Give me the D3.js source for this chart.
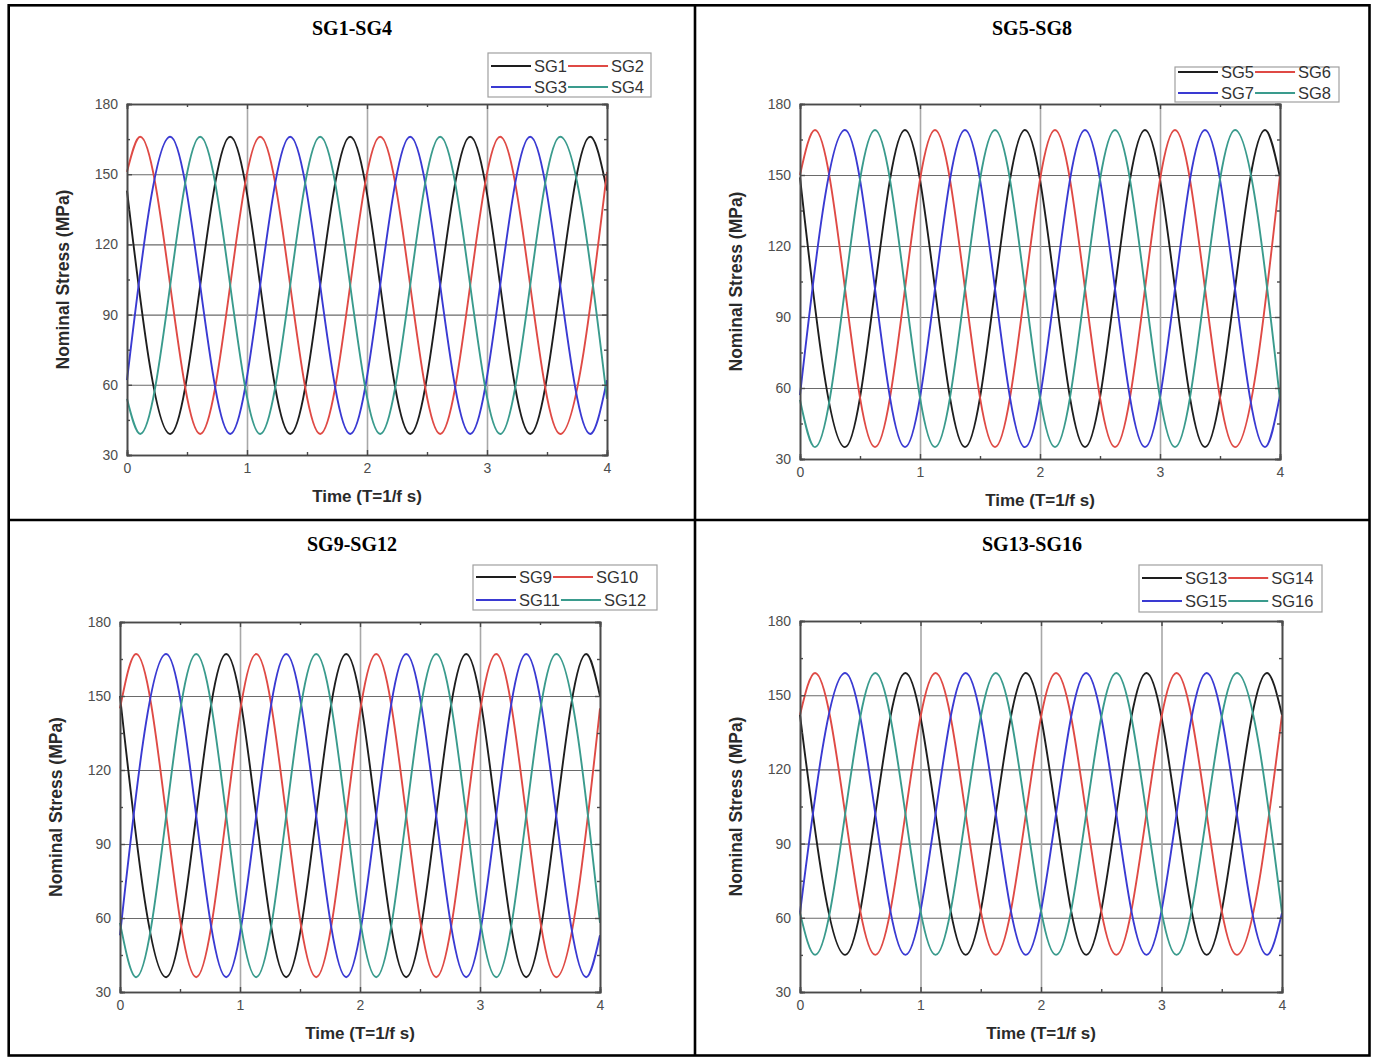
<!DOCTYPE html>
<html>
<head>
<meta charset="utf-8">
<script src="https://cdn.jsdelivr.net/npm/d3@7"></script>
<style>
  body { margin: 0; background: #fff; }
  svg text { font-family: "Liberation Sans", Arial, sans-serif; }
</style>
</head>
<body>
<div id="chart"></div>
<script>
// titles, legend names and ticks
const panelTitles = ["SG1-SG4", "SG5-SG8", "SG9-SG12", "SG13-SG16"];
const seriesNames = [
  ["SG1", "SG2", "SG3", "SG4"],
  ["SG5", "SG6", "SG7", "SG8"],
  ["SG9", "SG10", "SG11", "SG12"],
  ["SG13", "SG14", "SG15", "SG16"]
];
const timeTicks = [0, 1, 2, 3, 4];
const timeMinor = [0.5, 1.5, 2.5, 3.5];
const stressTicks = [30, 60, 90, 120, 150, 180];
const stressMinor = [45, 75, 105, 135, 165];

// [time, stress] read at start, peaks / troughs, end
const sg1 = [[0,143],[0.36,39],[0.86,166],[1.36,39],[1.86,166],[2.36,39],[2.86,166],[3.36,39],[3.86,166],[4,143]];
const sg2 = [[0,151],[0.11,166],[0.61,39],[1.11,166],[1.61,39],[2.11,166],[2.61,39],[3.11,166],[3.61,39],[4,151]];
const sg3 = [[0,62],[0.36,166],[0.86,39],[1.36,166],[1.86,39],[2.36,166],[2.86,39],[3.36,166],[3.86,39],[4,62]];
const sg4 = [[0,54],[0.11,39],[0.61,166],[1.11,39],[1.61,166],[2.11,39],[2.61,166],[3.11,39],[3.61,166],[4,54]];

const sg5 = [[0,149],[0.375,35],[0.875,169],[1.375,35],[1.875,169],[2.375,35],[2.875,169],[3.375,35],[3.875,169],[4,149]];
const sg6 = [[0,150],[0.125,169],[0.625,35],[1.125,169],[1.625,35],[2.125,169],[2.625,35],[3.125,169],[3.625,35],[4,150]];
const sg7 = [[0,57],[0.375,169],[0.875,35],[1.375,169],[1.875,35],[2.375,169],[2.875,35],[3.375,169],[3.875,35],[4,57]];
const sg8 = [[0,55],[0.125,35],[0.625,169],[1.125,35],[1.625,169],[2.125,35],[2.625,169],[3.125,35],[3.625,169],[4,55]];

const sg9  = [[0,150],[0.385,36],[0.885,167],[1.385,36],[1.885,167],[2.385,36],[2.885,167],[3.385,36],[3.885,167],[4,150]];
const sg10 = [[0,145],[0.135,167],[0.635,36],[1.135,167],[1.635,36],[2.135,167],[2.635,36],[3.135,167],[3.635,36],[4,145]];
const sg11 = [[0,53],[0.385,167],[0.885,36],[1.385,167],[1.885,36],[2.385,167],[2.885,36],[3.385,167],[3.885,36],[4,53]];
const sg12 = [[0,58],[0.135,36],[0.635,167],[1.135,36],[1.635,167],[2.135,36],[2.635,167],[3.135,36],[3.635,167],[4,58]];

const sg13 = [[0,142],[0.375,45],[0.875,159],[1.375,45],[1.875,159],[2.375,45],[2.875,159],[3.375,45],[3.875,159],[4,142]];
const sg14 = [[0,142],[0.125,159],[0.625,45],[1.125,159],[1.625,45],[2.125,159],[2.625,45],[3.125,159],[3.625,45],[4,142]];
const sg15 = [[0,62],[0.375,159],[0.875,45],[1.375,159],[1.875,45],[2.375,159],[2.875,45],[3.375,159],[3.875,45],[4,62]];
const sg16 = [[0,62],[0.125,45],[0.625,159],[1.125,45],[1.625,159],[2.125,45],[2.625,159],[3.125,45],[3.625,159],[4,62]];

const panelSeries = [[sg1, sg2, sg3, sg4], [sg5, sg6, sg7, sg8], [sg9, sg10, sg11, sg12], [sg13, sg14, sg15, sg16]];

const lineColors = ["#1e1e1e", "#df4a45", "#3a3ad2", "#3a9b8d"];

// panel geometry (cell, plot area, legend box)
const layout = [
  {cx: 352,  ty: 35,  plot: [127, 104, 607, 455], leg: [488, 53, 651, 97],    rows: [66, 87]},
  {cx: 1032, ty: 35,  plot: [800, 104, 1280, 459], leg: [1175, 67, 1339, 102], rows: [72, 93]},
  {cx: 352,  ty: 551, plot: [120, 622, 600, 992], leg: [473, 565, 657, 610],   rows: [577, 600]},
  {cx: 1032, ty: 551, plot: [800, 621, 1282, 992], leg: [1139, 565, 1322, 612], rows: [578, 601]}
];

const W = 1374, H = 1057;
const svg = d3.select("#chart").append("svg")
  .attr("width", W)
  .attr("height", H);

// table frame
const frame = svg.append("g").attr("stroke", "#000").attr("stroke-width", 2.6).attr("fill", "none");
frame.append("rect").attr("x", 8.7).attr("y", 5.3).attr("width", 1369.5 - 8.7).attr("height", 1055.5 - 5.3);
frame.append("line").attr("x1", 695).attr("x2", 695).attr("y1", 5.3).attr("y2", 1055.5);
frame.append("line").attr("x1", 8.7).attr("x2", 1369.5).attr("y1", 520).attr("y2", 520);

function drawPanel(i) {
  const cfg = layout[i];
  const [x0, y0, x1, y1] = cfg.plot;
  const w = x1 - x0, h = y1 - y0;

  svg.append("text")
    .attr("x", cfg.cx)
    .attr("y", cfg.ty)
    .attr("text-anchor", "middle")
    .style("font-family", "'Liberation Serif', 'Times New Roman', serif")
    .style("font-weight", "bold")
    .style("font-size", "20px")
    .text(panelTitles[i]);

  const g = svg.append("g").attr("transform", `translate(${x0},${y0})`);

  const x = d3.scaleLinear().domain([0, 4]).range([0, w]);
  const y = d3.scaleLinear().domain([30, 180]).range([h, 0]);

  // grid
  g.append("g")
    .call(d3.axisLeft(y).tickValues(stressTicks.slice(1, -1)).tickSize(-w).tickFormat(""))
    .call(a => a.select(".domain").remove())
    .selectAll("line").attr("stroke", "#6a6a6a").attr("stroke-width", 1.1);
  g.append("g")
    .attr("transform", `translate(0,${h})`)
    .call(d3.axisBottom(x).tickValues(timeTicks.slice(1, -1)).tickSize(h).tickFormat(""))
    .call(a => a.select(".domain").remove())
    .selectAll("line").attr("stroke", "#a8a8a8").attr("stroke-width", 1.6)
    .attr("y2", -h);

  // curves
  const line = d3.line()
    .x(d => x(d[0]))
    .y(d => y(d[1]))
    .curve(d3.curveMonotoneX);

  g.selectAll("path.curve")
    .data(panelSeries[i])
    .join("path")
    .attr("class", "curve")
    .attr("fill", "none")
    .attr("stroke", (d, k) => lineColors[k])
    .attr("stroke-width", 1.9)
    .attr("d", line);

  // axes with inward ticks
  const tickStyle = a => {
    a.select(".domain").attr("stroke", "#4a4a4a").attr("stroke-width", 1.6);
    a.selectAll(".tick line").attr("stroke", "#4a4a4a").attr("stroke-width", 1.4);
    a.selectAll("text").attr("fill", "#4d4d4d").style("font-size", "14px");
  };
  g.append("g")
    .attr("transform", `translate(0,${h})`)
    .call(d3.axisBottom(x).tickValues(timeTicks).tickSize(-5).tickPadding(8).tickFormat(d3.format("d")))
    .call(tickStyle);
  g.append("g")
    .attr("transform", `translate(0,${h})`)
    .call(d3.axisBottom(x).tickValues(timeMinor).tickSize(-3).tickFormat(""))
    .call(tickStyle);
  g.append("g")
    .call(d3.axisTop(x).tickValues(timeTicks).tickSize(-5).tickFormat(""))
    .call(tickStyle);
  g.append("g")
    .call(d3.axisTop(x).tickValues(timeMinor).tickSize(-3).tickFormat(""))
    .call(tickStyle);
  g.append("g")
    .call(d3.axisLeft(y).tickValues(stressTicks).tickSize(-5).tickPadding(9))
    .call(tickStyle);
  g.append("g")
    .call(d3.axisLeft(y).tickValues(stressMinor).tickSize(-3).tickFormat(""))
    .call(tickStyle);
  g.append("g")
    .attr("transform", `translate(${w},0)`)
    .call(d3.axisRight(y).tickValues(stressTicks).tickSize(-5).tickFormat(""))
    .call(tickStyle);
  g.append("g")
    .attr("transform", `translate(${w},0)`)
    .call(d3.axisRight(y).tickValues(stressMinor).tickSize(-3).tickFormat(""))
    .call(tickStyle);

  // axis titles
  g.append("text")
    .attr("x", w / 2)
    .attr("y", h + 47)
    .attr("text-anchor", "middle")
    .attr("fill", "#2a2a2a")
    .style("font-weight", "bold")
    .style("font-size", "17px")
    .text("Time (T=1/f s)");
  g.append("text")
    .attr("transform", `translate(-58,${h / 2}) rotate(-90)`)
    .attr("text-anchor", "middle")
    .attr("fill", "#2a2a2a")
    .style("font-weight", "bold")
    .style("font-size", "17.5px")
    .text("Nominal Stress (MPa)");

  // legend
  const [lx0, ly0, lx1, ly1] = cfg.leg;
  svg.append("rect")
    .attr("x", lx0).attr("y", ly0)
    .attr("width", lx1 - lx0).attr("height", ly1 - ly0)
    .attr("fill", "#fff")
    .attr("stroke", "#a0a0a0")
    .attr("stroke-width", 1.2);
  [0, 1].forEach(r => {
    let cx = lx0 + 3;
    const ry = cfg.rows[r];
    [0, 1].forEach(c => {
      const k = r * 2 + c;
      svg.append("line")
        .attr("x1", cx).attr("x2", cx + 40)
        .attr("y1", ry).attr("y2", ry)
        .attr("stroke", lineColors[k])
        .attr("stroke-width", 1.8);
      const t = svg.append("text")
        .attr("x", cx + 43)
        .attr("y", ry)
        .attr("dy", "0.36em")
        .attr("fill", "#333")
        .style("font-size", "16.5px")
        .text(seriesNames[i][k]);
      cx = cx + 43 + t.node().getComputedTextLength() + 1;
    });
  });
}

d3.range(4).forEach(drawPanel);
</script>
</body>
</html>
